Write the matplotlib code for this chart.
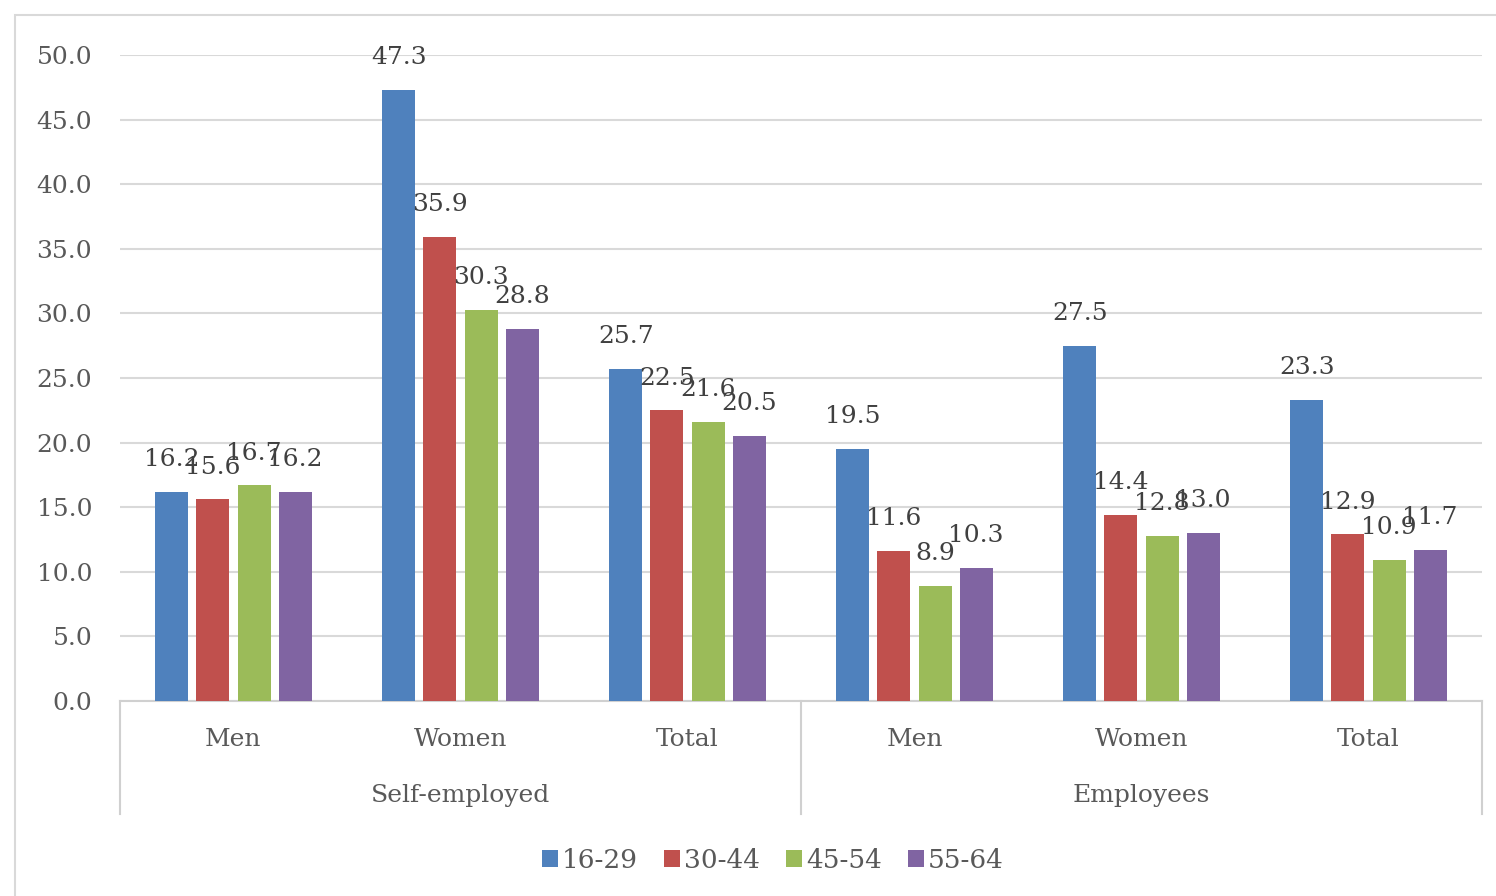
import numpy as np
import matplotlib.pyplot as plt
from matplotlib.patches import Rectangle
from matplotlib.lines import Line2D

plt.rcParams['font.family'] = ['DejaVu Serif']

# data
subgroups = ['Men', 'Women', 'Total', 'Men', 'Women', 'Total']
groups = ['Self-employed', 'Employees']
ages = ['16-29', '30-44', '45-54', '55-64']
age_16_29 = [16.2, 47.3, 25.7, 19.5, 27.5, 23.3]
age_30_44 = [15.6, 35.9, 22.5, 11.6, 14.4, 12.9]
age_45_54 = [16.7, 30.3, 21.6, 8.9, 12.8, 10.9]
age_55_64 = [16.2, 28.8, 20.5, 10.3, 13.0, 11.7]
series = [age_16_29, age_30_44, age_45_54, age_55_64]
colors = ['#4F81BD', '#C0504D', '#9BBB59', '#8064A2']

fig = plt.figure(figsize=(14.96, 8.96), dpi=100)
ax = fig.add_axes([120/1496, 1-701/896, (1482-120)/1496, (701-55)/896])

# outer chart frame
fig.patches.append(Rectangle((15/1496, -0.1), 1.2, 1-15/896+0.1, transform=fig.transFigure,
                             fill=False, edgecolor='#d9d9d9', linewidth=1.5))

x = np.arange(len(subgroups))
step = 0.181
width = 0.145
for i, (vals, c) in enumerate(zip(series, colors)):
    pos = x + (i - 1.5)*step
    ax.bar(pos, vals, width=width, color=c, label=ages[i], zorder=3)
    for p, v in zip(pos, vals):
        ax.text(p, v + 1.6, '%.1f' % v, ha='center', va='bottom', fontsize=18,
                color='#404040', zorder=4, clip_on=False)

ax.set_xlim(-0.5, 5.5)
ax.set_ylim(0, 50)
ax.set_yticks(np.arange(0, 50.1, 5))
ax.set_yticklabels(['%.1f' % t for t in np.arange(0, 50.1, 5)])
ax.tick_params(axis='y', length=0, labelsize=18, labelcolor='#595959', pad=20)
ax.set_xticks([])
ax.grid(axis='y', color='#d9d9d9', linewidth=1.5, zorder=0)
for s in ['top', 'right', 'left']:
    ax.spines[s].set_visible(False)
ax.spines['bottom'].set_color('#d0d0d0')
ax.spines['bottom'].set_linewidth(1.5)

# two-level category axis
for xi, lab in zip(x, subgroups):
    ax.text(xi, -0.06, lab, transform=ax.get_xaxis_transform(), ha='center', va='center',
            fontsize=18, color='#595959')
for gi, g in enumerate(groups):
    ax.text(gi*3 + 1, -0.147, g, transform=ax.get_xaxis_transform(), ha='center', va='center',
            fontsize=18, color='#595959')
for xs in [-0.5, 2.5, 5.5]:
    ax.add_line(Line2D([xs, xs], [0, -0.175], transform=ax.get_xaxis_transform(),
                       color='#d0d0d0', linewidth=1.5, clip_on=False))

fig.legend(loc='center', bbox_to_anchor=(773/1496, 1-860/896), ncol=4, frameon=False,
           fontsize=19, handlelength=0.6, handleheight=0.6, handletextpad=0.15,
           columnspacing=1.0, labelcolor='#595959')

fig.savefig('out.png', dpi=100)
